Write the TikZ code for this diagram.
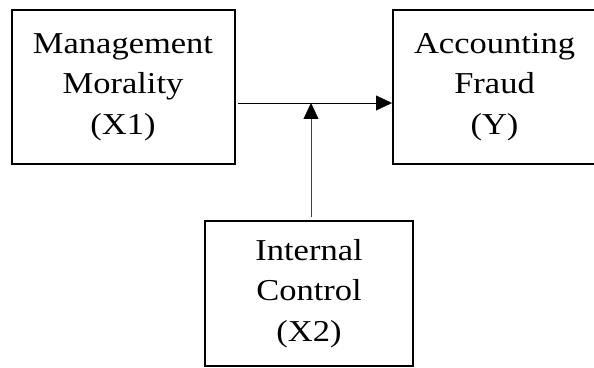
\documentclass[tikz,border=0pt]{standalone}
\usepackage{fontspec}
\setmainfont{Liberation Serif}
\usetikzlibrary{arrows.meta}

\begin{document}
\begin{tikzpicture}[x=1pt,y=1pt,-{Triangle[length=16pt,width=15pt,color=black]},
  thin,var node/.style={rectangle,draw,line width=2pt,inner sep=0pt,align=center,
    yscale=0.88,transform shape,font=\fontsize{34.5}{46}\selectfont}]
  \clip (0,0) rectangle (594,367);
  \node[var node, minimum width=223pt, minimum height=175pt] (x1) at (123,280) {Management\\Morality\\(X1)};
  \node[var node, minimum width=203pt, minimum height=175pt] (y) at (494.5,280) {Accounting\\Fraud\\(Y)};
  \node[var node, minimum width=208pt, minimum height=165pt] (x2) at (309,73.5) {Internal\\Control\\(X2)};
  \coordinate (mod) at (311,264);
  \draw[shorten <=2pt] (x1.east |- mod) -- (y.west |- mod);
  \draw[black!75, shorten <=3pt] (x2.north -| mod) -- (mod);
\end{tikzpicture}
\end{document}
